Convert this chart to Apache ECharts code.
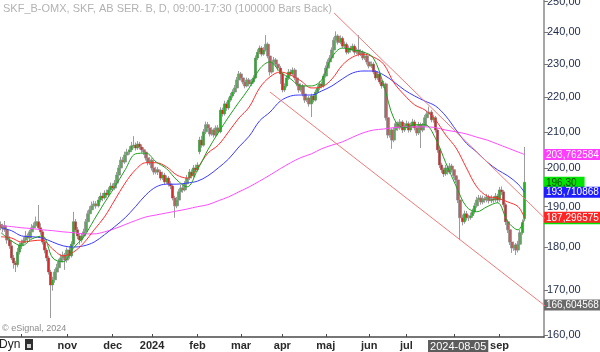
<!DOCTYPE html>
<html>
<head>
<meta charset="utf-8">
<script src="https://cdn.jsdelivr.net/npm/echarts@6/dist/echarts.min.js"></script>
<style>
    html, body { margin: 0; padding: 0; background: #fff; }
    #chart { width: 600px; height: 352px; }
</style>
</head>
<body>
<div id="chart"></div>
<script>
/* daily bars, SKF B, sep 2023 - sep 2024 */
const opens = [
    185.5, 184.7, 185.2, 184.2, 181.7, 180.3, 177.4, 176.2, 175.8, 178.8,
    180.5, 181.0, 181.7, 182.7, 182.2, 183.7, 184.7, 185.2, 186.2, 184.7,
    183.7, 181.2, 179.3, 177.4, 174.1, 171.1, 172.3, 174.1, 175.1, 176.5,
    177.4, 178.1, 176.9, 179.3, 177.9, 180.7, 186.2, 184.2, 182.7, 181.7,
    182.7, 183.7, 186.2, 188.2, 189.2, 190.2, 190.7, 190.2, 191.7, 192.7,
    192.2, 193.5, 193.0, 194.3, 195.3, 194.8, 196.1, 198.2, 200.1, 202.2,
    201.7, 203.6, 204.4, 205.0, 206.1, 206.3, 205.5, 206.6, 205.8, 205.0,
    204.4, 202.8, 201.5, 202.2, 200.1, 199.0, 199.6, 199.0, 197.4, 198.2,
    196.4, 197.4, 195.9, 195.3, 192.2, 190.2, 191.7, 193.8, 194.8, 194.3,
    195.9, 197.4, 199.0, 198.0, 200.1, 199.6, 204.5, 207.7, 206.3, 210.0,
    212.0, 211.1, 209.4, 210.5, 209.1, 211.1, 210.0, 216.2, 215.1, 218.0,
    216.8, 219.1, 220.3, 221.5, 222.7, 225.1, 226.9, 225.7, 224.5, 223.3,
    225.1, 223.9, 224.5, 225.7, 231.8, 233.6, 234.9, 233.0, 234.3, 236.1,
    232.4, 227.5, 230.6, 231.2, 229.9, 228.7, 226.9, 222.1, 223.3, 225.7,
    227.5, 226.9, 228.1, 225.7, 223.9, 222.1, 223.3, 220.9, 219.1, 219.7,
    218.0, 220.3, 219.1, 221.5, 222.7, 223.9, 223.3, 226.3, 228.7, 230.6,
    231.8, 234.3, 237.4, 238.7, 236.7, 238.0, 235.5, 236.1, 233.6, 234.9,
    234.3, 235.5, 233.6, 234.3, 233.0, 233.6, 231.8, 232.4, 230.6, 229.3,
    229.9, 227.5, 225.7, 226.9, 224.5, 223.3, 223.9, 214.0, 209.1, 210.5,
    207.7, 210.5, 212.3, 211.1, 212.8, 210.5, 211.7, 212.3, 210.5, 211.7,
    212.8, 211.1, 209.7, 212.0, 210.5, 211.7, 214.0, 215.1, 215.6, 213.4,
    214.0, 210.5, 205.0, 200.9, 199.6, 198.5, 200.1, 199.0, 200.6, 199.6,
    198.0, 196.9, 191.7, 187.2, 186.2, 188.2, 187.2, 187.2, 187.7, 188.7,
    190.2, 191.7, 192.2, 191.2, 192.0, 191.7, 192.5, 191.5, 192.0, 191.7,
    192.7, 191.7, 194.3, 193.8, 190.5, 186.2, 184.2, 181.2, 179.8, 180.5,
    179.3, 180.7, 183.5, 187.0
];
const closes = [
    184.7, 185.2, 184.2, 181.7, 180.3, 177.4, 176.2, 175.8, 178.8, 180.5,
    181.0, 181.7, 182.7, 182.2, 183.7, 184.7, 185.2, 186.2, 184.7, 183.7,
    181.2, 179.3, 177.4, 174.1, 171.1, 172.3, 174.1, 175.1, 176.5, 177.4,
    178.1, 176.9, 179.3, 177.9, 180.7, 186.2, 184.2, 182.7, 181.7, 182.7,
    183.7, 186.2, 188.2, 189.2, 190.2, 190.7, 190.2, 191.7, 192.7, 192.2,
    193.5, 193.0, 194.3, 195.3, 194.8, 196.1, 198.2, 200.1, 202.2, 201.7,
    203.6, 204.4, 205.0, 206.1, 206.3, 205.5, 206.6, 205.8, 205.0, 204.4,
    202.8, 201.5, 202.2, 200.1, 199.0, 199.6, 199.0, 197.4, 198.2, 196.4,
    197.4, 195.9, 195.3, 192.2, 190.2, 191.7, 193.8, 194.8, 194.3, 195.9,
    197.4, 199.0, 198.0, 200.1, 199.6, 200.9, 207.7, 206.3, 210.0, 212.0,
    211.1, 209.4, 210.5, 209.1, 211.1, 210.0, 216.2, 215.1, 218.0, 216.8,
    219.1, 220.3, 221.5, 222.7, 225.1, 226.9, 225.7, 224.5, 223.3, 225.1,
    223.9, 224.5, 225.7, 231.8, 233.6, 234.9, 233.0, 234.3, 236.1, 232.4,
    227.5, 230.6, 231.2, 229.9, 228.7, 226.9, 222.1, 223.3, 225.7, 227.5,
    226.9, 228.1, 225.7, 223.9, 222.1, 223.3, 220.9, 219.1, 219.7, 218.0,
    220.3, 219.1, 221.5, 222.7, 223.9, 223.3, 226.3, 228.7, 230.6, 231.8,
    234.3, 237.4, 238.7, 236.7, 238.0, 235.5, 236.1, 233.6, 234.9, 234.3,
    235.5, 233.6, 234.3, 233.0, 233.6, 231.8, 232.4, 230.6, 229.3, 229.9,
    227.5, 225.7, 226.9, 224.5, 223.3, 223.9, 214.0, 209.1, 210.5, 207.7,
    210.5, 212.3, 211.1, 212.8, 210.5, 211.7, 212.3, 210.5, 211.7, 212.8,
    211.1, 209.7, 212.0, 210.5, 211.7, 214.0, 215.1, 215.6, 213.4, 214.0,
    210.5, 205.0, 200.9, 199.6, 198.5, 200.1, 199.0, 200.6, 199.6, 198.0,
    196.9, 191.7, 187.2, 186.2, 188.2, 187.2, 187.2, 187.7, 188.7, 190.2,
    191.7, 192.2, 191.2, 192.0, 191.7, 192.5, 191.5, 192.0, 191.7, 192.7,
    191.7, 194.3, 193.8, 190.5, 186.2, 184.2, 181.2, 179.8, 180.5, 179.3,
    180.7, 183.5, 186.0, 196.3
];
const highs = [
    186.3, 185.7, 186.4, 184.8, 182.6, 181.7, 178.1, 176.7, 179.8, 181.1,
    181.8, 182.4, 183.9, 183.3, 184.2, 185.6, 186.0, 187.5, 190.4, 185.8,
    184.2, 181.9, 179.8, 177.9, 174.6, 173.0, 174.8, 176.0, 177.2, 178.3,
    178.9, 178.6, 179.9, 180.2, 181.4, 188.7, 186.9, 184.9, 183.2, 183.4,
    184.5, 186.9, 189.0, 190.1, 191.3, 191.5, 191.4, 192.5, 193.6, 193.5,
    194.2, 194.4, 195.0, 196.2, 196.0, 196.9, 199.0, 200.9, 203.1, 203.0,
    204.5, 205.3, 206.0, 207.2, 208.8, 207.0, 207.4, 207.2, 206.5, 205.7,
    204.9, 203.4, 203.0, 202.7, 200.8, 200.4, 200.3, 199.6, 199.1, 198.8,
    198.1, 197.9, 196.6, 195.8, 192.8, 192.5, 194.5, 195.6, 195.7, 196.6,
    198.2, 199.8, 199.7, 200.9, 201.0, 201.6, 208.6, 208.9, 210.8, 212.9,
    212.8, 211.7, 211.3, 211.0, 211.8, 211.9, 217.0, 216.9, 218.9, 218.6,
    219.9, 221.2, 222.3, 223.6, 226.0, 227.8, 227.5, 226.3, 225.2, 225.8,
    225.7, 225.4, 226.5, 232.6, 234.5, 235.7, 235.5, 235.2, 239.0, 236.7,
    232.9, 231.4, 232.1, 231.8, 230.5, 229.3, 227.4, 224.1, 226.5, 228.4,
    228.3, 228.9, 228.7, 226.3, 224.5, 224.0, 223.9, 221.5, 220.6, 220.3,
    221.0, 220.9, 222.2, 223.5, 224.7, 224.6, 227.0, 229.5, 231.4, 232.7,
    235.1, 238.3, 240.2, 239.3, 238.9, 238.6, 237.0, 236.7, 235.7, 235.6,
    236.3, 236.1, 235.1, 239.0, 234.5, 234.2, 233.2, 233.0, 231.3, 230.7,
    230.5, 228.1, 227.7, 227.4, 225.1, 224.8, 224.3, 214.5, 211.3, 211.0,
    211.2, 213.1, 212.9, 213.6, 213.3, 212.5, 213.2, 212.9, 212.6, 213.7,
    213.4, 211.8, 212.8, 212.6, 212.5, 214.8, 216.0, 217.2, 216.2, 214.8,
    214.5, 211.0, 205.6, 201.5, 200.2, 200.9, 200.7, 201.4, 201.2, 200.2,
    198.6, 197.4, 192.2, 188.0, 189.0, 188.9, 188.0, 188.5, 189.5, 191.0,
    192.5, 193.0, 192.9, 192.8, 192.6, 193.3, 193.1, 192.9, 192.7, 193.5,
    193.3, 195.1, 195.2, 194.3, 191.0, 186.8, 184.8, 181.8, 181.3, 181.0,
    181.5, 184.2, 186.8, 205.8
];
const lows = [
    184.1, 183.6, 183.7, 180.8, 179.6, 176.9, 174.9, 174.1, 175.2, 178.2,
    179.5, 180.5, 181.2, 181.3, 181.6, 183.2, 184.0, 184.7, 184.2, 183.0,
    180.6, 178.5, 176.6, 173.5, 163.7, 169.8, 171.6, 173.3, 174.6, 175.9,
    176.4, 174.6, 176.3, 177.2, 177.5, 180.3, 183.6, 181.9, 180.6, 181.1,
    182.1, 183.3, 185.8, 187.6, 188.5, 189.4, 189.5, 189.8, 191.1, 191.4,
    191.8, 192.3, 192.5, 193.8, 194.0, 194.3, 195.7, 197.6, 199.6, 200.9,
    201.2, 203.0, 203.7, 204.4, 205.4, 204.8, 205.0, 205.1, 204.2, 203.6,
    202.1, 200.8, 200.9, 199.4, 198.3, 198.4, 198.2, 196.8, 196.9, 195.8,
    195.9, 195.2, 194.5, 191.6, 187.2, 189.6, 191.2, 193.1, 193.6, 193.9,
    195.3, 196.9, 197.3, 197.5, 198.9, 199.1, 203.8, 205.6, 205.9, 209.4,
    210.3, 208.7, 208.9, 208.4, 208.6, 209.3, 209.6, 214.3, 214.6, 216.0,
    216.3, 218.6, 219.8, 220.9, 222.2, 224.6, 225.0, 223.8, 222.6, 222.9,
    223.2, 223.3, 224.0, 225.3, 231.2, 233.0, 232.3, 232.5, 233.8, 231.7,
    226.4, 227.0, 230.0, 229.1, 227.9, 223.9, 221.4, 221.5, 222.8, 225.1,
    226.2, 226.4, 225.0, 223.2, 221.3, 221.6, 220.2, 218.3, 218.5, 217.2,
    214.2, 218.4, 218.7, 221.0, 222.1, 222.6, 222.8, 225.8, 228.1, 230.0,
    231.3, 233.8, 236.8, 236.0, 236.1, 234.8, 234.9, 232.9, 233.0, 233.5,
    233.8, 232.8, 233.0, 232.3, 232.4, 231.1, 231.2, 229.8, 228.6, 228.7,
    226.8, 225.0, 225.1, 223.8, 222.5, 222.7, 213.2, 208.2, 208.4, 205.3,
    207.1, 209.9, 210.3, 210.6, 209.7, 210.0, 211.0, 209.8, 209.9, 211.1,
    210.4, 208.9, 209.1, 205.5, 209.9, 211.2, 213.4, 214.6, 212.7, 212.6,
    209.8, 204.2, 200.1, 198.8, 197.7, 198.0, 198.3, 198.5, 198.9, 197.3,
    196.1, 190.9, 181.7, 185.3, 185.7, 186.5, 186.4, 186.7, 187.2, 188.2,
    189.7, 191.1, 190.5, 190.6, 191.0, 191.1, 190.8, 190.9, 191.0, 191.2,
    190.9, 191.2, 193.0, 189.8, 185.4, 183.4, 180.5, 178.6, 179.1, 178.1,
    178.7, 180.2, 183.0, 186.3
];

/* moving averages, one value every 5 bars */
const maIdx = [
    0, 5, 10, 15, 20, 25, 30, 35, 40, 45, 50, 55, 60, 65, 70, 75, 80, 85, 90, 95,
    100, 105, 110, 115, 120, 125, 130, 135, 140, 145, 150, 155, 160, 165, 170, 175,
    180, 185, 190, 195, 200, 205, 210, 215, 220, 225, 230, 235, 240, 245, 250, 253
];
const maGreen = [
    183.5, 181.5, 180.3, 182.0, 182.7, 177.4, 176.5, 179.8, 182.5, 186.7, 191.0, 195.1,
    199.6, 203.9, 204.1, 201.7, 199.9, 196.9, 195.1, 199.6, 205.0, 209.7, 214.2, 218.5,
    222.7, 228.4, 230.6, 227.5, 225.4, 223.3, 223.3, 225.1, 232.1, 234.9, 234.3, 233.7,
    231.8, 223.6, 213.7, 211.1, 212.0, 212.0, 208.2, 201.5, 195.3, 190.0, 188.7, 190.0,
    191.0, 186.2, 184.2, 187.0
];
const maRed = [
    182.5, 182.2, 181.2, 181.5, 181.7, 179.5, 177.9, 178.8, 181.0, 184.2, 187.4, 191.7,
    196.1, 199.6, 201.5, 201.5, 200.4, 198.2, 197.4, 200.1, 204.1, 206.3, 210.0, 213.9,
    217.1, 222.7, 226.0, 227.5, 226.6, 224.8, 222.7, 223.0, 225.4, 229.6, 232.1, 233.0,
    232.1, 229.9, 224.2, 220.6, 217.7, 216.2, 213.4, 209.1, 205.5, 200.1, 195.1, 192.7,
    192.2, 191.2, 190.0, 187.296575
];
const maBlue = [
    184.7, 184.0, 182.7, 182.5, 182.2, 181.2, 180.3, 180.0, 180.3, 181.2, 183.0, 185.0,
    187.2, 190.0, 193.0, 195.1, 195.8, 195.8, 196.1, 196.6, 198.0, 200.1, 202.5, 205.8,
    208.8, 213.1, 215.6, 218.8, 220.3, 220.6, 220.6, 221.8, 223.3, 225.4, 227.2, 227.8,
    227.8, 226.6, 224.5, 222.1, 220.3, 218.8, 217.4, 214.5, 210.5, 206.8, 204.4, 201.7,
    199.6, 198.0, 195.8, 193.710868
];
const maMagenta = [
    185.2, 185.0, 184.7, 184.5, 184.2, 184.0, 183.7, 183.5, 183.2, 183.2, 183.7, 184.5,
    185.5, 186.5, 187.4, 187.9, 188.4, 188.9, 189.4, 190.0, 190.5, 191.5, 192.5, 193.8,
    195.1, 196.6, 198.2, 199.9, 201.5, 202.9, 203.9, 205.3, 206.3, 207.2, 208.5, 209.7,
    210.5, 210.8, 211.2, 211.4, 211.4, 211.4, 211.2, 210.5, 210.0, 209.4, 208.5, 207.7,
    206.6, 205.5, 204.4, 203.762584
];

/* trend lines: [bar index, price] */
const upperTrend = [[161, 246.2], [263, 187.0]];
const lowerTrend = [[130, 221.5], [263, 166.4]];

/* axis ticks & labels */
const priceTicks = [160, 170, 180, 190, 200, 210, 220, 230, 240, 250];
const monthStart = [10, 32, 54, 73, 95, 116, 136, 157, 178, 196, 219, 241];
const monthLabel = ['', 'nov', 'dec', '2024', 'feb', 'mar', 'apr', 'maj', 'jun', 'jul', '', 'sep'];
const cursorIdx = 221;
const cursorLabel = '2024-08-05';

/* price tags at the right edge */
const tagValues = [203.762584, 196.30, 193.710868, 186.95, 187.296575, 166.604568];
const tagTexts = ['203,762584', '196,30', '193,710868', '186,950000', '187,296575', '166,604568'];
const tagKinds = ['mag', 'grn', 'blu', 'grn', 'red', 'gry'];

const L = Math.log;
const padBars = 9;
const cats = [];
for (let i = 0; i < closes.length + padBars; i++) cats.push(String(i));

const wickData = closes.map((c, i) => [L(opens[i]), L(c), L(lows[i]), L(highs[i])]);
const bodyData = closes.map((c, i) => [L(opens[i]), L(c), L(Math.min(opens[i], c)), L(Math.max(opens[i], c))]);

function maLine (vals, color) {
    return {
        type: 'line',
        data: maIdx.map((x, k) => [x, L(vals[k])]),
        smooth: 0.35,
        showSymbol: false,
        silent: true,
        z: 4,
        lineStyle: { color: color, width: 1 }
    };
}
function trendLine (pts) {
    return {
        type: 'line',
        data: pts.map(p => [p[0], L(p[1])]),
        showSymbol: false,
        silent: true,
        z: 5,
        lineStyle: { color: '#f07a7a', width: 1 }
    };
}

const tagColors = {
    mag: ['#ff3cff', '#ffffff'],
    grn: ['#00e400', '#0b3a0b'],
    blu: ['#1e1eff', '#ffffff'],
    red: ['#ff2323', '#ffffff'],
    gry: ['#6a6a6a', '#ffffff']
};
const tagRich = {};
Object.keys(tagColors).forEach(function (k) {
    tagRich[k] = {
        backgroundColor: tagColors[k][0], color: tagColors[k][1],
        fontSize: 10, lineHeight: 12, padding: [1, 8, 0, 2]
    };
});

const yMin = L(159.6), yMax = L(250.5);
const fmtPrice = v => Math.exp(v).toFixed(2).replace('.', ',');

const chart = echarts.init(document.getElementById('chart'));
chart.setOption({
    animation: false,
    textStyle: { fontFamily: 'Liberation Sans, Arial, sans-serif' },
    grid: { left: 0, right: 56, top: 0, bottom: 15, outerBoundsMode: 'none', containLabel: false },
    xAxis: {
        type: 'category',
        data: cats,
        boundaryGap: true,
        axisLine: { lineStyle: { color: '#4a4a4a', width: 1.5 } },
        axisTick: {
            show: true, inside: true, length: 3, alignWithLabel: true,
            interval: (i) => monthStart.includes(i),
            lineStyle: { color: '#4a4a4a' }
        },
        axisLabel: {
            margin: 3,
            interval: (i) => i === cursorIdx || (monthStart.includes(i) && monthLabel[monthStart.indexOf(i)] !== ''),
            formatter: function (v, i) {
                if (i === cursorIdx) return '{cur|' + cursorLabel + '}';
                let k = monthStart.indexOf(i);
                return '{m|' + (k >= 0 ? monthLabel[k] : '') + '}';
            },
            rich: {
                m: { fontSize: 11, fontWeight: 'bold', color: '#2a2a2a' },
                cur: { fontSize: 11, color: '#ffffff', backgroundColor: '#5c5c5c', padding: [1, 2, 0, 2] }
            }
        },
        splitLine: { show: false }
    },
    yAxis: [
        {
            type: 'value', position: 'right', min: yMin, max: yMax,
            axisLine: { show: true, lineStyle: { color: '#a6a6a6', width: 2 } },
            axisTick: { show: true, length: 4, customValues: priceTicks.map(L), lineStyle: { color: '#777' } },
            axisLabel: {
                customValues: priceTicks.map(L), formatter: fmtPrice,
                margin: 3, fontSize: 11, color: '#1f2a48'
            },
            splitLine: { show: false }
        },
        {
            type: 'value', position: 'right', min: yMin, max: yMax,
            axisLine: { show: false }, axisTick: { show: false }, splitLine: { show: false },
            axisLabel: {
                margin: 0,
                customValues: tagValues.map(L),
                formatter: function (v) {
                    let k = tagValues.findIndex(t => Math.abs(L(t) - v) < 1e-7);
                    if (k < 0) return '';
                    return '{' + tagKinds[k] + '|' + tagTexts[k] + '}';
                },
                rich: tagRich
            }
        }
    ],
    graphic: [
        {
            type: 'text', left: 3, top: 3, silent: true,
            style: { text: 'SKF_B-OMX, SKF, AB SER. B, D, 09:00-17:30 (100000 Bars Back)', fill: '#b2b2b2', font: '11px Liberation Sans' }
        },
        {
            type: 'text', left: 2, top: 324, silent: true,
            style: { text: '© eSignal, 2024', fill: '#8c8c8c', font: '9px Liberation Sans' }
        },
        {
            type: 'text', left: -1, top: 339, silent: true,
            style: { text: 'Dyn', fill: '#222', font: '12px Liberation Sans' }
        },
        {
            type: 'rect', left: 25, top: 339, silent: true,
            shape: { width: 8, height: 11 }, style: { fill: '#2f2f2f' }
        },
        {
            type: 'rect', left: 27, top: 344, silent: true,
            shape: { width: 4, height: 4 }, style: { fill: '#d0d0d0' }
        }
    ],
    series: [
        {
            type: 'candlestick', data: wickData, barWidth: 3, z: 2, silent: true,
            itemStyle: { color: '#9c9c9c', color0: '#9c9c9c', borderColor: '#9c9c9c', borderColor0: '#9c9c9c', borderWidth: 1 }
        },
        {
            type: 'candlestick', data: bodyData, barWidth: 2, z: 3, silent: true,
            itemStyle: { color: '#22b222', color0: '#d42a2a', borderColor: '#22b222', borderColor0: '#d42a2a', borderWidth: 0 }
        },
        maLine(maMagenta, '#ff4cff'),
        maLine(maBlue, '#3a3aff'),
        maLine(maRed, '#ff2e2e'),
        maLine(maGreen, '#1e9e1e'),
        trendLine(upperTrend),
        trendLine(lowerTrend)
    ]
});
</script>
</body>
</html>
